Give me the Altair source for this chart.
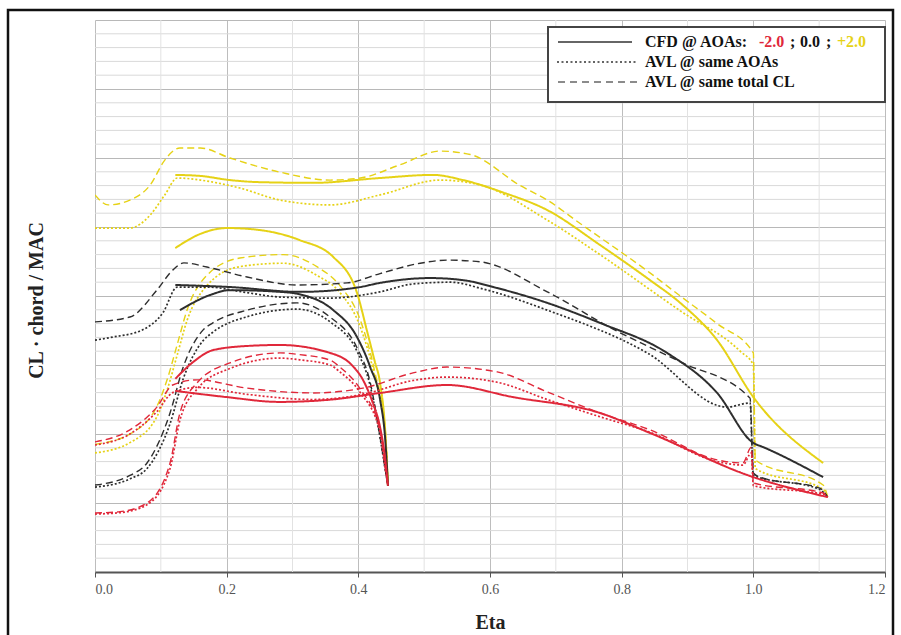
import altair as alt
import pandas as pd

# ---------------- data ----------------
# +2.0 deg (yellow) — wing
Y_CFD_WING_ETA = [0.122, 0.16, 0.205, 0.25, 0.331, 0.433, 0.513, 0.559, 0.62, 0.687, 0.767, 0.843, 0.889, 0.945, 1.0, 1.106]
Y_CFD_WING_CL = [1.151, 1.148, 1.136, 1.13, 1.128, 1.142, 1.151, 1.136, 1.10, 1.049, 0.948, 0.846, 0.78, 0.672, 0.507, 0.316]
Y_CL_WING_ETA = [0, 0.02, 0.053, 0.084, 0.106, 0.129, 0.16, 0.205, 0.281, 0.357, 0.403, 0.463, 0.524, 0.57, 0.646, 0.687, 0.737, 0.843, 0.889, 0.945, 1.0, 1.003, 1.106, 1.113]
Y_CL_WING_CL = [1.093, 1.064, 1.078, 1.122, 1.194, 1.229, 1.229, 1.2, 1.159, 1.136, 1.142, 1.18, 1.22, 1.21, 1.12, 1.078, 1.01, 0.867, 0.80, 0.72, 0.635, 0.325, 0.252, 0.217]
Y_AOA_WING_ETA = [0, 0.053, 0.084, 0.106, 0.125, 0.16, 0.22, 0.281, 0.357, 0.433, 0.524, 0.585, 0.687, 0.767, 0.889, 0.98, 1.0, 1.003, 1.106, 1.113]
Y_AOA_WING_CL = [0.997, 0.997, 1.035, 1.093, 1.142, 1.136, 1.113, 1.078, 1.064, 1.093, 1.136, 1.122, 1.02, 0.92, 0.757, 0.64, 0.60, 0.30, 0.24, 0.217]
# +2.0 deg (yellow) — inner surface
Y_CFD_IN_ETA = [0.122, 0.16, 0.201, 0.251, 0.311, 0.362, 0.398, 0.413, 0.425, 0.433, 0.441, 0.445]
Y_CFD_IN_CL = [0.939, 0.98, 0.997, 0.991, 0.962, 0.913, 0.809, 0.70, 0.61, 0.548, 0.403, 0.25]
Y_AVL_IN_ETA = [0, 0.053, 0.094, 0.11, 0.125, 0.14, 0.17, 0.22, 0.286, 0.337, 0.372, 0.403, 0.425, 0.441, 0.445]
Y_CL_IN_CL = [0.37, 0.40, 0.48, 0.56, 0.66, 0.76, 0.86, 0.91, 0.92, 0.885, 0.83, 0.73, 0.58, 0.41, 0.25]
Y_AOA_IN_CL = [0.345, 0.375, 0.45, 0.53, 0.63, 0.73, 0.83, 0.885, 0.895, 0.86, 0.81, 0.71, 0.565, 0.40, 0.25]

# 0.0 deg (black) — wing
K_CFD_WING_ETA = [0.122, 0.205, 0.311, 0.40, 0.433, 0.509, 0.559, 0.611, 0.687, 0.767, 0.869, 0.945, 1.0, 1.015, 1.106]
K_CFD_WING_CL = [0.832, 0.826, 0.812, 0.825, 0.838, 0.852, 0.846, 0.823, 0.780, 0.722, 0.635, 0.519, 0.374, 0.362, 0.275]
K_CL_WING_ETA = [0, 0.053, 0.094, 0.118, 0.135, 0.17, 0.231, 0.307, 0.383, 0.433, 0.494, 0.535, 0.585, 0.687, 0.787, 0.889, 0.995, 1.0, 1.01, 1.101, 1.113]
K_CL_WING_CL = [0.725, 0.739, 0.817, 0.875, 0.896, 0.884, 0.855, 0.832, 0.838, 0.865, 0.895, 0.904, 0.899, 0.812, 0.704, 0.609, 0.504, 0.287, 0.275, 0.243, 0.217]
K_AOA_WING_ETA = [0, 0.027, 0.07, 0.103, 0.125, 0.17, 0.23, 0.281, 0.357, 0.433, 0.483, 0.54, 0.59, 0.687, 0.839, 0.96, 0.995, 1.0, 1.10, 1.113]
K_AOA_WING_CL = [0.672, 0.681, 0.70, 0.751, 0.826, 0.826, 0.81, 0.797, 0.794, 0.812, 0.835, 0.84, 0.82, 0.759, 0.635, 0.478, 0.49, 0.28, 0.24, 0.217]
# 0.0 deg (black) — inner surface
K_CFD_IN_ETA = [0.129, 0.175, 0.205, 0.281, 0.311, 0.362, 0.398, 0.418, 0.433, 0.441, 0.445]
K_CFD_IN_CL = [0.759, 0.803, 0.817, 0.812, 0.805, 0.759, 0.681, 0.594, 0.50, 0.38, 0.25]
K_AVL_IN_ETA = [0, 0.053, 0.079, 0.114, 0.134, 0.164, 0.179, 0.231, 0.307, 0.357, 0.398, 0.418, 0.433, 0.441, 0.445]
K_CL_IN_CL = [0.252, 0.28, 0.316, 0.461, 0.594, 0.701, 0.722, 0.759, 0.78, 0.739, 0.65, 0.55, 0.391, 0.296, 0.25]
K_AOA_IN_CL = [0.246, 0.27, 0.30, 0.43, 0.56, 0.67, 0.695, 0.74, 0.762, 0.725, 0.64, 0.54, 0.39, 0.295, 0.25]

# -2.0 deg (red) — wing
R_CFD_WING_ETA = [0.122, 0.20, 0.28, 0.36, 0.433, 0.535, 0.635, 0.767, 0.843, 1.0, 1.113]
R_CFD_WING_CL = [0.525, 0.507, 0.493, 0.50, 0.519, 0.542, 0.507, 0.461, 0.403, 0.275, 0.217]
R_AVL_WING_ETA = [0, 0.053, 0.094, 0.118, 0.155, 0.231, 0.331, 0.407, 0.483, 0.535, 0.611, 0.687, 0.767, 0.843, 0.945, 0.984, 0.997, 1.0, 1.106, 1.113]
R_CL_WING_CL = [0.377, 0.412, 0.478, 0.542, 0.557, 0.533, 0.519, 0.533, 0.577, 0.594, 0.58, 0.522, 0.461, 0.412, 0.325, 0.316, 0.362, 0.258, 0.229, 0.217]
R_AOA_WING_CL = [0.368, 0.40, 0.465, 0.52, 0.535, 0.515, 0.50, 0.515, 0.555, 0.565, 0.55, 0.50, 0.45, 0.405, 0.32, 0.31, 0.345, 0.25, 0.225, 0.217]
# -2.0 deg (red) — inner surface
R_CFD_IN_ETA = [0.122, 0.15, 0.179, 0.23, 0.281, 0.357, 0.39, 0.407, 0.422, 0.433, 0.44, 0.445]
R_CFD_IN_CL = [0.56, 0.61, 0.643, 0.655, 0.658, 0.635, 0.60, 0.557, 0.49, 0.42, 0.34, 0.25]
R_AVL_IN_ETA = [0, 0.038, 0.079, 0.114, 0.129, 0.155, 0.205, 0.281, 0.311, 0.357, 0.372, 0.403, 0.433, 0.441, 0.445]
R_CL_IN_CL = [0.171, 0.175, 0.20, 0.316, 0.461, 0.548, 0.606, 0.635, 0.63, 0.614, 0.594, 0.53, 0.412, 0.30, 0.25]
R_AOA_IN_CL = [0.168, 0.172, 0.195, 0.30, 0.44, 0.53, 0.59, 0.62, 0.615, 0.60, 0.58, 0.52, 0.405, 0.30, 0.25]

AOA_LABELS = ["-2.0", "0.0", "+2.0"]
METHODS = ["CFD", "AVL_AOA", "AVL_CL"]
X_TICKS = [0.0, 0.2, 0.4, 0.6, 0.8, 1.0, 1.2]
Y_MAJOR = [0.0, 0.2, 0.4, 0.6, 0.8, 1.0, 1.2, 1.4, 1.6]
X_MINOR = [0.1, 0.3, 0.5, 0.7, 0.9, 1.1]
Y_MINOR = [round(i * 0.04, 2) for i in range(41) if i % 5]

RED = "#e0283a"
BLACK = "#2e2e2e"
YELLOW = "#e6d216"
SERIF = "Liberation Serif"

series = [
    ("+2.0", "CFD", "yw_cfd", Y_CFD_WING_ETA, Y_CFD_WING_CL),
    ("+2.0", "AVL_CL", "yw_cl", Y_CL_WING_ETA, Y_CL_WING_CL),
    ("+2.0", "AVL_AOA", "yw_aoa", Y_AOA_WING_ETA, Y_AOA_WING_CL),
    ("+2.0", "CFD", "yi_cfd", Y_CFD_IN_ETA, Y_CFD_IN_CL),
    ("+2.0", "AVL_CL", "yi_cl", Y_AVL_IN_ETA, Y_CL_IN_CL),
    ("+2.0", "AVL_AOA", "yi_aoa", Y_AVL_IN_ETA, Y_AOA_IN_CL),
    ("0.0", "CFD", "kw_cfd", K_CFD_WING_ETA, K_CFD_WING_CL),
    ("0.0", "AVL_CL", "kw_cl", K_CL_WING_ETA, K_CL_WING_CL),
    ("0.0", "AVL_AOA", "kw_aoa", K_AOA_WING_ETA, K_AOA_WING_CL),
    ("0.0", "CFD", "ki_cfd", K_CFD_IN_ETA, K_CFD_IN_CL),
    ("0.0", "AVL_CL", "ki_cl", K_AVL_IN_ETA, K_CL_IN_CL),
    ("0.0", "AVL_AOA", "ki_aoa", K_AVL_IN_ETA, K_AOA_IN_CL),
    ("-2.0", "CFD", "rw_cfd", R_CFD_WING_ETA, R_CFD_WING_CL),
    ("-2.0", "AVL_CL", "rw_cl", R_AVL_WING_ETA, R_CL_WING_CL),
    ("-2.0", "AVL_AOA", "rw_aoa", R_AVL_WING_ETA, R_AOA_WING_CL),
    ("-2.0", "CFD", "ri_cfd", R_CFD_IN_ETA, R_CFD_IN_CL),
    ("-2.0", "AVL_CL", "ri_cl", R_AVL_IN_ETA, R_CL_IN_CL),
    ("-2.0", "AVL_AOA", "ri_aoa", R_AVL_IN_ETA, R_AOA_IN_CL),
]

rows = []
for aoa, method, sid, etas, cls in series:
    for i, (e, c) in enumerate(zip(etas, cls)):
        rows.append({"aoa": aoa, "method": method, "id": sid, "eta": e, "cl": c, "order": i})
df = pd.DataFrame(rows)

x_scale = alt.Scale(domain=[0, 1.2], nice=False, zero=False)
y_scale = alt.Scale(domain=[0, 1.6], nice=False, zero=False)

X_AXIS = alt.Axis(
    values=X_TICKS, format=".1f", title="Eta", grid=True, gridColor="#bdbdbd", gridWidth=1,
    labelFont=SERIF, labelFontSize=14, labelColor="#555", labelPadding=5,
    tickColor="#555", tickSize=5, domainColor="#555", domainWidth=2,
    titleFont=SERIF, titleFontSize=20, titleFontWeight="bold", titleColor="#222",
    titleY=50, titleBaseline="middle")
Y_AXIS = alt.Axis(
    values=Y_MAJOR, labels=False, ticks=False, domain=False, grid=True,
    gridColor="#b8b8b8", gridWidth=1, title="CL · chord / MAC",
    titleFont=SERIF, titleFontSize=20, titleFontWeight="bold", titleColor="#222",
    titleAngle=270, titleX=-59, titleY=280, titleBaseline="middle", titleAlign="center")

# minor grid lines
minor_y = alt.Chart(pd.DataFrame({"cl": Y_MINOR})).mark_rule(color="#d9d9d9", strokeWidth=1).encode(
    y=alt.Y("cl:Q", scale=y_scale, axis=Y_AXIS)
)
minor_x = alt.Chart(pd.DataFrame({"eta": X_MINOR})).mark_rule(color="#e2e2e2", strokeWidth=1).encode(
    x=alt.X("eta:Q", scale=x_scale, axis=X_AXIS)
)

curves = alt.Chart(df).mark_line(interpolate="monotone", clip=True).encode(
    x=alt.X("eta:Q", scale=x_scale, axis=X_AXIS),
    y=alt.Y("cl:Q", scale=y_scale, axis=Y_AXIS),
    color=alt.Color("aoa:N", scale=alt.Scale(domain=AOA_LABELS, range=[RED, BLACK, YELLOW]), legend=None),
    strokeDash=alt.StrokeDash("method:N", scale=alt.Scale(domain=METHODS, range=[[1, 0], [2, 2], [7, 4]]), legend=None),
    strokeWidth=alt.StrokeWidth("method:N", scale=alt.Scale(domain=METHODS, range=[2.0, 1.4, 2.3]), legend=None),
    detail="id:N",
    order="order:Q",
)

one = pd.DataFrame({"k": [0]})

frame = alt.Chart(one).mark_rect(fillOpacity=0, stroke="#111", strokeWidth=2.5, clip=False).encode(
    x=alt.value(-87), x2=alt.value(798), y=alt.value(-10), y2=alt.value(640)
)
legend_box = alt.Chart(one).mark_rect(fill="white", stroke="#444", strokeWidth=2, clip=False).encode(
    x=alt.value(453), x2=alt.value(790), y=alt.value(7), y2=alt.value(82)
)
leg_solid = alt.Chart(one).mark_rule(color="#333", strokeWidth=1.6).encode(
    x=alt.value(463), x2=alt.value(537), y=alt.value(22)
)
leg_dot = alt.Chart(one).mark_rule(color="#333", strokeWidth=1.6, strokeDash=[2, 2.5]).encode(
    x=alt.value(462), x2=alt.value(542), y=alt.value(42)
)
leg_dash = alt.Chart(one).mark_rule(color="#666", strokeWidth=1.6, strokeDash=[7, 5]).encode(
    x=alt.value(463), x2=alt.value(545), y=alt.value(62)
)


def leg_text(txt, x, y, color="#111"):
    return alt.Chart(one).mark_text(
        text=txt, align="left", baseline="middle", font=SERIF, fontSize=16,
        fontWeight="bold", color=color
    ).encode(x=alt.value(x), y=alt.value(y))


texts = [
    leg_text("CFD @ AOAs:", 550, 22),
    leg_text("-2.0", 664, 22, RED),
    leg_text(";", 695, 22),
    leg_text("0.0", 705, 22),
    leg_text(";", 731, 22),
    leg_text("+2.0", 742, 22, YELLOW),
    leg_text("AVL @ same AOAs", 550, 42),
    leg_text("AVL @ same total CL", 550, 62),
]

chart = alt.layer(
    minor_y, minor_x, curves, legend_box, leg_solid, leg_dot, leg_dash, *texts, frame
).properties(
    width=790, height=552,
    autosize=alt.AutoSizeParams(type="none"),
    padding={"left": 95, "top": 20, "right": 16, "bottom": 63},
    background="white",
).configure_view(strokeWidth=0)

chart.save("out.html", embed_options={"renderer": "svg", "actions": False})
